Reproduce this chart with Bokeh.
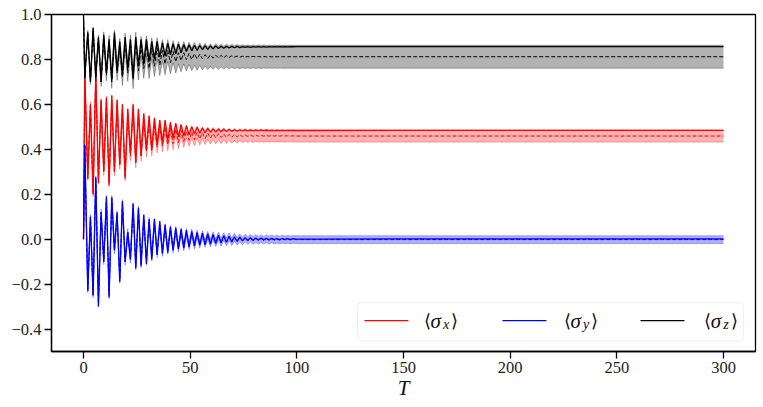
import numpy as np
from bokeh.plotting import figure
from bokeh.models import (FixedTicker, CustomJSTickFormatter, BoxAnnotation,
                          Label, Arrow, Range1d)
from bokeh.embed import file_html
from bokeh.resources import INLINE

# ---------------- data ----------------
T = [0.0, 0.6, 2.0, 3.25, 4.5, 5.75, 7.0, 8.25, 9.5, 10.75,
     12.0, 13.25, 14.5, 15.75, 17.0, 18.25, 19.5, 20.75, 22.0, 23.25,
     24.5, 25.75, 27.0, 28.25, 29.5, 30.75, 32.0, 33.25, 34.5, 35.75,
     37.0, 38.25, 39.5, 40.75, 42.0, 43.25, 44.5, 45.75, 47.0, 48.25,
     49.5, 50.75, 52.0, 53.25, 54.5, 55.75, 57.0, 58.25, 59.5, 60.75,
     62.0, 63.25, 64.5, 65.75, 67.0, 68.25, 69.5, 70.75, 72.0, 73.25,
     74.5, 75.75, 77.0,
     78.25, 79.5, 80.75, 82.0, 83.25, 84.5, 85.75, 87.0, 88.25, 89.5,
     90.75, 92.0, 93.25, 94.5, 95.75, 97.0, 98.25, 99.5,
     150.0, 200.0, 250.0, 300.0]

sx_exact = [0.0, 0.74, 0.27, 0.60, 0.20, 0.74, 0.25, 0.62, 0.30, 0.63,
            0.24, 0.64, 0.30, 0.62, 0.33, 0.60, 0.27, 0.58, 0.38, 0.60,
            0.34, 0.58, 0.37, 0.56, 0.40, 0.55, 0.40, 0.54, 0.42, 0.53,
            0.43, 0.53, 0.44, 0.52, 0.45, 0.515, 0.455, 0.51, 0.46, 0.505,
            0.465, 0.50, 0.47, 0.498, 0.472, 0.495, 0.474, 0.493, 0.476, 0.491,
            0.477, 0.49, 0.478, 0.489, 0.479, 0.488, 0.48, 0.487, 0.481, 0.486,
            0.482, 0.486, 0.482,
            0.4855, 0.4825, 0.4852, 0.4828, 0.485, 0.483, 0.4848, 0.4832, 0.4847, 0.4833,
            0.4846, 0.4834, 0.4845, 0.4835, 0.4844, 0.4836, 0.4843, 0.4837,
            0.484, 0.484, 0.484, 0.484]
sx_mean = [0.0, 0.74, 0.27, 0.60, 0.20, 0.73, 0.26, 0.61, 0.30, 0.62,
           0.25, 0.62, 0.30, 0.60, 0.33, 0.58, 0.28, 0.56, 0.37, 0.58,
           0.34, 0.55, 0.37, 0.53, 0.39, 0.52, 0.395, 0.51, 0.41, 0.505,
           0.415, 0.50, 0.42, 0.495, 0.425, 0.49, 0.43, 0.485, 0.435, 0.48,
           0.44, 0.478, 0.443, 0.476, 0.446, 0.474, 0.448, 0.472, 0.45, 0.47,
           0.451, 0.469, 0.452, 0.468, 0.453, 0.467, 0.454, 0.466, 0.455, 0.465,
           0.456, 0.464, 0.457,
           0.4635, 0.4575, 0.463, 0.458, 0.4625, 0.4582, 0.462, 0.4585, 0.4615, 0.4587,
           0.461, 0.4588, 0.4605, 0.459, 0.4602, 0.459, 0.46, 0.459,
           0.459, 0.459, 0.459, 0.459]
sx_std = [0.0, 0.006, 0.009, 0.011, 0.012, 0.013, 0.014, 0.015, 0.016, 0.017,
          0.018, 0.018, 0.019, 0.02, 0.02, 0.021, 0.021, 0.022, 0.022, 0.023,
          0.023, 0.024, 0.024, 0.024, 0.025, 0.025, 0.025, 0.026, 0.026, 0.026,
          0.026, 0.027, 0.027, 0.027, 0.027, 0.027, 0.027, 0.027, 0.027, 0.027,
          0.027, 0.027, 0.027, 0.027, 0.027, 0.027, 0.027, 0.027, 0.027, 0.027,
          0.027, 0.027, 0.027, 0.027, 0.027, 0.027, 0.027, 0.027, 0.027, 0.027,
          0.027, 0.027, 0.027,
          0.027, 0.027, 0.027, 0.027, 0.027, 0.027, 0.027, 0.027, 0.027, 0.027,
          0.027, 0.027, 0.027, 0.027, 0.027, 0.027, 0.027, 0.027,
          0.027, 0.027, 0.027, 0.027]

sy_exact = [0.0, 0.42, -0.23, 0.10, -0.25, 0.275, -0.30, 0.12, -0.10, 0.19,
            -0.26, 0.186, -0.05, 0.12, -0.19, 0.17, -0.10, 0.03, -0.09, 0.16,
            -0.13, 0.14, -0.12, 0.11, -0.11, 0.09, -0.09, 0.09, -0.07, 0.08,
            -0.065, 0.065, -0.06, 0.055, -0.05, 0.05, -0.045, 0.045, -0.04, 0.04,
            -0.035, 0.035, -0.03, 0.03, -0.028, 0.027, -0.025, 0.024, -0.022, 0.021,
            -0.019, 0.018, -0.016, 0.015, -0.014, 0.013, -0.012, 0.011, -0.01, 0.009,
            -0.008, 0.007, -0.006,
            0.006, -0.005, 0.005, -0.004, 0.005, -0.003, 0.004, -0.003, 0.004, -0.002,
            0.003, -0.002, 0.003, -0.001, 0.002, -0.001, 0.002, 0.0,
            0.001, 0.001, 0.001, 0.001]
sy_mean = [0.0, 0.42, -0.23, 0.10, -0.25, 0.27, -0.29, 0.12, -0.10, 0.18,
           -0.25, 0.18, -0.05, 0.11, -0.18, 0.16, -0.10, 0.03, -0.09, 0.14,
           -0.12, 0.13, -0.11, 0.09, -0.10, 0.08, -0.08, 0.075, -0.065, 0.065,
           -0.06, 0.05, -0.05, 0.045, -0.045, 0.04, -0.04, 0.035, -0.035, 0.03,
           -0.03, 0.028, -0.026, 0.024, -0.023, 0.021, -0.02, 0.018, -0.018, 0.016,
           -0.016, 0.014, -0.014, 0.012, -0.012, 0.01, -0.011, 0.008, -0.009, 0.006,
           -0.008, 0.005, -0.006,
           0.004, -0.006, 0.003, -0.005, 0.002, -0.005, 0.002, -0.004, 0.001, -0.004,
           0.0, -0.004, 0.0, -0.003, -0.001, -0.003, -0.001, -0.002,
           -0.002, -0.002, -0.002, -0.002]
sy_std = [0.0, 0.005, 0.008, 0.01, 0.011, 0.012, 0.013, 0.014, 0.014, 0.015,
          0.015, 0.015, 0.016, 0.016, 0.016, 0.016, 0.017, 0.017, 0.017, 0.017,
          0.017, 0.017, 0.017, 0.017, 0.017, 0.017, 0.017, 0.017, 0.017, 0.017,
          0.017, 0.017, 0.017, 0.017, 0.017, 0.017, 0.017, 0.017, 0.017, 0.017,
          0.017, 0.017, 0.017, 0.017, 0.017, 0.017, 0.017, 0.017, 0.017, 0.017,
          0.017, 0.017, 0.017, 0.017, 0.017, 0.017, 0.017, 0.017, 0.017, 0.017,
          0.017, 0.017, 0.017,
          0.017, 0.017, 0.017, 0.017, 0.017, 0.017, 0.017, 0.017, 0.017, 0.017,
          0.017, 0.017, 0.017, 0.017, 0.017, 0.017, 0.017, 0.017,
          0.017, 0.017, 0.017, 0.017]

sz_exact = [1.0, 0.72, 0.92, 0.70, 0.94, 0.72, 0.90, 0.70, 0.91, 0.74,
            0.89, 0.71, 0.92, 0.75, 0.88, 0.73, 0.90, 0.76, 0.89, 0.72,
            0.90, 0.77, 0.89, 0.78, 0.89, 0.79, 0.88, 0.80, 0.88, 0.81,
            0.875, 0.815, 0.872, 0.82, 0.87, 0.825, 0.868, 0.83, 0.866, 0.835,
            0.865, 0.838, 0.863, 0.84, 0.862, 0.843, 0.861, 0.845, 0.86, 0.847,
            0.86, 0.849, 0.859, 0.85, 0.859, 0.851, 0.858, 0.852, 0.858, 0.853,
            0.857, 0.854, 0.857,
            0.854, 0.857, 0.8545, 0.857, 0.855, 0.857, 0.855, 0.857, 0.8555, 0.857,
            0.8555, 0.857, 0.856, 0.857, 0.856, 0.857, 0.8565, 0.857,
            0.857, 0.857, 0.857, 0.857]
sz_mean = [1.0, 0.72, 0.92, 0.70, 0.93, 0.72, 0.89, 0.70, 0.90, 0.73,
           0.88, 0.70, 0.90, 0.74, 0.86, 0.72, 0.88, 0.74, 0.87, 0.71,
           0.88, 0.75, 0.86, 0.76, 0.86, 0.76, 0.85, 0.77, 0.85, 0.775,
           0.84, 0.78, 0.84, 0.785, 0.835, 0.79, 0.83, 0.795, 0.83, 0.798,
           0.827, 0.80, 0.825, 0.802, 0.823, 0.803, 0.821, 0.805, 0.82, 0.806,
           0.819, 0.807, 0.818, 0.808, 0.817, 0.809, 0.816, 0.81, 0.815, 0.81,
           0.814, 0.811, 0.813,
           0.811, 0.8135, 0.811, 0.813, 0.8112, 0.8128, 0.8114, 0.8126, 0.8115, 0.8125,
           0.8116, 0.8124, 0.8117, 0.8123, 0.8118, 0.8122, 0.8119, 0.812,
           0.812, 0.812, 0.812, 0.812]
sz_std = [0.0, 0.005, 0.01, 0.012, 0.015, 0.017, 0.019, 0.021, 0.023, 0.025,
          0.027, 0.029, 0.031, 0.033, 0.034, 0.036, 0.037, 0.038, 0.039, 0.04,
          0.041, 0.042, 0.043, 0.044, 0.045, 0.045, 0.046, 0.046, 0.047, 0.047,
          0.048, 0.048, 0.049, 0.049, 0.049, 0.05, 0.05, 0.05, 0.05, 0.05,
          0.05, 0.05, 0.05, 0.05, 0.05, 0.05, 0.05, 0.05, 0.05, 0.05,
          0.051, 0.051, 0.051, 0.051, 0.051, 0.051, 0.051, 0.051, 0.051, 0.051,
          0.051, 0.051, 0.051,
          0.051, 0.051, 0.051, 0.051, 0.051, 0.051, 0.051, 0.051, 0.051, 0.051,
          0.051, 0.051, 0.051, 0.051, 0.051, 0.051, 0.051, 0.051,
          0.051, 0.051, 0.051, 0.051]

X_TICKS = [0, 50, 100, 150, 200, 250, 300]
Y_TICKS = [-0.4, -0.2, 0.0, 0.2, 0.4, 0.6, 0.8, 1.0]
SERIES = [("x", "#ff0000", sx_exact, sx_mean, sx_std),
          ("y", "#0000ff", sy_exact, sy_mean, sy_std),
          ("z", "#000000", sz_exact, sz_mean, sz_std)]

# ---------------- figure ----------------
FONT = "Liberation Serif"
p = figure(width=757, height=404, output_backend="svg", toolbar_location=None,
           x_range=Range1d(-15, 315), y_range=Range1d(-0.5, 1.0),
           min_border_left=51, min_border_right=2, min_border_top=14,
           min_border_bottom=53)
p.background_fill_color = "white"
p.border_fill_color = "white"
p.xgrid.grid_line_color = None
p.ygrid.grid_line_color = None
p.outline_line_color = "black"
p.outline_line_width = 1.3
p.outline_line_alpha = 1.0

tarr = np.array(T)
for name, color, exact, mean, std in SERIES:
    m = np.array(mean)
    s = np.array(std)
    p.line(tarr, exact, line_color=color, line_width=1.3)
    p.line(tarr, mean, line_color=color, line_width=1.0, line_dash="4 2")
    p.varea(x=tarr, y1=m - s, y2=m + s, fill_color=color, fill_alpha=0.3)
    p.line(tarr, m - s, line_color=color, line_alpha=0.3, line_width=1.0)
    p.line(tarr, m + s, line_color=color, line_alpha=0.3, line_width=1.0)

p.xaxis.ticker = FixedTicker(ticks=X_TICKS)
p.yaxis.ticker = FixedTicker(ticks=Y_TICKS)
p.yaxis.formatter = CustomJSTickFormatter(code="""
const v = Math.abs(tick) < 1e-9 ? 0 : tick;
return v.toFixed(1).replace('-', '\u2212');
""")
for ax in (p.xaxis, p.yaxis):
    ax.minor_tick_line_color = None
    ax.major_tick_in = 0
    ax.major_tick_out = 7
    ax.major_tick_line_width = 1.3
    ax.major_tick_line_color = "black"
    ax.axis_line_width = 1.3
    ax.axis_line_color = "black"
    ax.major_label_text_font = FONT
    ax.major_label_text_font_size = "16.5px"
    ax.major_label_text_color = "#222222"
    ax.major_label_standoff = 3

p.xaxis.axis_label = "T"
p.xaxis.axis_label_text_font = FONT
p.xaxis.axis_label_text_font_style = "italic"
p.xaxis.axis_label_text_font_size = "21px"
p.xaxis.axis_label_text_color = "#111111"
p.xaxis.axis_label_standoff = 0

# ---------------- legend (drawn by hand for sub-scripts) ----------------
LEG_BOX = dict(left=128.4, right=309.4, top=-0.283, bottom=-0.452)
LEG_LINE_X = [(131.7, 152.3), (196.4, 217.0), (261.1, 281.7)]
LEG_Y = -0.363
LEG_Y_SIG = -0.366
LEG_Y_SUB = -0.378
LEG_TEXT_X = [159.4, 225.0, 290.8]

p.add_layout(BoxAnnotation(left=LEG_BOX["left"], right=LEG_BOX["right"],
                           top=LEG_BOX["top"], bottom=LEG_BOX["bottom"],
                           fill_color="white", fill_alpha=0.85,
                           line_color="#cccccc", line_width=1,
                           border_radius=4))
for (name, color, *_), (x0, x1), tx in zip(SERIES, LEG_LINE_X, LEG_TEXT_X):
    p.add_layout(Arrow(x_start=x0, y_start=LEG_Y, x_end=x1, y_end=LEG_Y,
                       end=None, line_color=color, line_width=1.3))
    common = dict(text_font=FONT, text_baseline="middle", text_align="left",
                  text_color="#111111")
    p.add_layout(Label(x=tx, y=LEG_Y, text="\u27e8", text_font_size="18px",
                       **common))
    p.add_layout(Label(x=tx, y=LEG_Y_SIG, x_offset=7.0, text="\u03c3",
                       text_font_size="21px", text_font_style="italic",
                       **common))
    p.add_layout(Label(x=tx, y=LEG_Y_SUB, x_offset=19.5, text=name,
                       text_font_size="14px", text_font_style="italic",
                       **common))
    p.add_layout(Label(x=tx, y=LEG_Y, x_offset=27.5, text="\u27e9",
                       text_font_size="18px", **common))

open("out.html", "w").write(file_html(p, INLINE))
